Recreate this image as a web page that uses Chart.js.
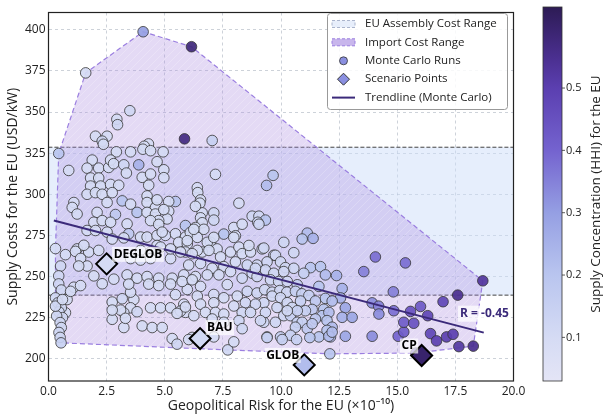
<!DOCTYPE html>
<html>
<head>
<meta charset="utf-8">
<script src="https://cdn.jsdelivr.net/npm/chart.js@4.4.1/dist/chart.umd.min.js"></script>
<style>
  html, body { margin: 0; padding: 0; background: #fff; }
  canvas { display: block; }
</style>
</head>
<body>
<canvas id="chart" width="608" height="417"></canvas>
<script>
// axes
const xTicks = [0, 2.5, 5, 7.5, 10, 12.5, 15, 17.5, 20];
const yTicks = [200, 225, 250, 275, 300, 325, 350, 375, 400];
const xRange = [0, 20];
const yRange = [186.5, 410.5];

// colour bar (HHI)
const hhiRange = [0.03, 0.63];
const cbTicks = [0.1, 0.2, 0.3, 0.4, 0.5];
const cmapStops = [0.03, 0.1, 0.2, 0.3, 0.4, 0.5, 0.55, 0.63];
const cmapColors = ["#e4e5f6", "#d5dbf4", "#b9c5ef", "#959fe3", "#7463cf", "#5b3fb0", "#4a2f8f", "#2d1b55"];

// EU assembly cost band (USD/kW)
const euAssemblyRange = [238.7, 328.6];

// scenarios
const scenarioNames = ["DEGLOB", "BAU", "GLOB", "CP"];
const scenarioX = [2.5, 6.52, 11.0, 16.05];
const scenarioY = [257.7, 212.3, 196.3, 202.0];
const scenarioHHI = [0.1, 0.11, 0.22, 0.6];

// trendline of the Monte Carlo runs
const trendX = [0.23, 18.72];
const trendY = [284.1, 215.9];
const trendR = -0.45;

const legendLabels = ["EU Assembly Cost Range", "Import Cost Range", "Monte Carlo Runs", "Scenario Points", "Trendline (Monte Carlo)"];

// Monte Carlo runs: [risk, cost, hhi]
const monteCarloRuns = [
  [1.6,373.8,.1],[4.07,398.8,.3],[6.15,389.7,.58],[5.85,333.7,.57],[0.44,324.8,.2],
  [3.5,350.8,.12],[2.94,345.6,.1],[2.97,342.3,.12],[2.02,335.3,.1],[2.52,335.3,.1],[2.31,332.3,.12],[2.36,330.4,.1],[4.3,330.6,.1],[4.12,329.2,.1],[7.04,332.7,.15],
  [2.92,325.8,.1],[3.53,325.8,.1],[4.06,327.4,.1],[4.39,326.5,.1],[4.93,325.8,.1],
  [0.87,314.5,.1],[1.88,320.8,.1],[1.66,315.9,.1],[2.16,315.9,.1],[2.59,316.3,.1],[2.67,320.8,.1],[2.8,318.6,.1],[3.24,317.9,.12],[3.35,312.9,.1],[3.88,317.9,.25],[4.03,310.3,.1],[4.39,312.3,.1],[4.67,319.8,.1],[4.96,314.9,.1],[4.96,310.1,.1],
  [1.81,309.9,.1],[2.16,309.9,.1],[1.81,305,.1],[2.24,305,.1],[2.67,306,.1],[3.02,305.5,.1],[4.31,305.5,.1],
  [1.66,300,.1],[2.02,301,.1],[2.31,300,.1],[2.74,301,.1],[2.52,295,.1],[3.17,296,.2],[3.53,294,.1],[4.24,299,.1],[4.24,295,.1],[4.6,292,.1],[5.46,295.6,.2],[5.17,295.6,.1],
  [1.09,295,.1],[1.02,292,.1],[1.23,288,.1],[2.09,289,.1],[2.88,287.7,.18],[3.81,289,.2],[4.24,289,.1],[4.6,288,.1],[5.17,289.7,.1],[5.1,285,.1],[4.74,284,.1],[4.39,284,.1],[1.95,283,.1],[2.31,284,.1],[2.67,283,.1],[3.38,282,.1],[5.89,281,.2],
  [1.66,278,.1],[2.02,278,.1],[2.52,277,.1],[3.45,276,.18],[3.96,274,.1],[4.24,274,.1],[4.67,275,.1],[5.03,275,.1],[5.46,276,.1],[5.89,274,.1],
  [4.96,290.7,.1],[4.67,296.6,.1],[4.74,281.7,.1],[4.89,277,.1],
  [6.4,304,.1],[6.42,301,.1],[6.54,296.6,.1],[6.51,294.6,.1],[6.61,288.7,.1],[6.54,285.7,.1],[6.32,292.7,.1],[7.11,288.7,.12],[7.11,284.3,.12],[6.61,282.7,.1],[7.18,312.1,.1],[8.19,294.6,.1],
  [6.32,279.8,.1],[6.68,278.7,.1],[7.54,275.8,.2],[7.97,279.8,.1],[8.33,281.8,.1],[8.04,274.8,.1],[6.1,276.8,.1],[6.4,273.8,.1],[6.97,270.8,.1],[5.6,270.8,.1],[5.97,269.8,.1],[6.61,264.9,.1],[7.25,266.8,.1],[7.83,264.9,.1],[8.19,267.9,.1],[8.33,263.9,.1],[8.69,264.9,.1],[9.19,266.8,.12],[9.69,262.9,.12],[5.25,260.9,.1],[4.67,268.9,.1],
  [9.66,311.5,.2],[9.38,305.4,.22],[8.76,286.7,.12],[9.05,286.7,.12],[9.33,284.3,.2],[9.0,283,.12],[11.13,276.4,.22],[10.91,272.8,.2],[11.38,273.2,.25],[10.12,270.8,.12],[6.25,278.7,.1],[9.05,281.8,.12],[9.26,267.3,.12],[10.55,264.5,.12],[9.76,262.9,.12],
  [8.97,257,.12],[9.4,258.9,.12],[9.98,258.9,.12],[10.19,255.4,.12],[10.55,255,.12],[11.27,255.4,.2],[11.7,256,.2],[11.91,251,.22],[12.39,250.6,.25],[13.56,253,.35],[14.06,261.9,.38],[15.35,258.3,.38],
  [8.76,252,.12],[8.97,250,.12],[9.33,254,.12],[9.69,252,.12],[10.12,253,.12],[10.98,252,.15],[9.55,248,.12],[9.9,247,.12],[10.27,247,.12],[10.7,245,.15],
  [8.55,241,.12],[8.97,240,.12],[9.3,242,.12],[9.62,240.5,.12],[9.95,241.5,.12],[10.25,240.5,.12],[10.62,241,.15],[10.9,239.5,.15],[11.2,238.5,.15],
  [11.63,244,.2],[11.91,236.7,.2],[12.63,242.7,.25],[12.56,237,.25],[12.77,231,.28],[13.92,234,.33],[14.2,232,.35],
  [9.26,234.1,.12],[9.62,238.1,.12],[9.98,237.1,.12],[10.27,234.1,.12],[10.48,231.2,.12],[10.84,235.1,.15],[11.48,235.1,.18],[11.84,230.1,.2],[12.2,235.1,.22],[9.83,231.2,.12],
  [11.34,230,.18],[11.77,226.2,.2],[12.06,228.2,.22],[12.63,225.2,.25],[13.06,225.2,.28],
  [9.26,222.2,.12],[9.76,222.2,.12],[10.12,226.2,.12],[10.41,226.2,.15],[10.7,222.2,.15],[10.91,222.2,.15],[11.48,224.2,.18],[11.98,223.2,.2],[12.2,219.2,.22],
  [6.54,244,.1],[7.11,239.1,.1],[7.69,245.1,.1],[8.12,238.1,.1],[9.33,228.2,.12],[9.12,223.2,.12],[10.62,219.2,.15],[11.13,218.3,.18],[11.63,213.3,.2],[12.13,213.3,.22],[9.4,213.3,.15],[9.98,213.3,.15],[10.41,214.3,.15],[11.98,217.3,.2],[11.05,229.2,.15],[10.7,229.2,.15],[10.27,229.2,.12],[11.34,221.3,.18],
  [5.97,271.8,.1],[6.83,270.8,.1],[7.11,273.8,.1],[7.97,273.8,.1],[5.89,264.9,.1],[6.4,265.9,.1],[6.9,265.9,.1],[7.4,261.9,.1],[8.62,268.9,.1],[8.04,258.9,.1],[8.55,257,.12],[7.54,256,.1],[7.04,255,.1],[6.54,257.9,.1],[6.03,257,.1],[5.82,251,.1],[6.32,250,.1],[6.83,251,.1],[7.33,251,.1],[7.83,253,.1],[8.33,249,.12],[8.9,255,.12],
  [5.97,242.1,.1],[6.4,238.1,.1],[7.54,237.1,.1],[7.97,232.1,.1],[8.47,234.1,.12],[8.9,233.2,.12],[6.54,233.2,.1],[7.11,234.1,.1],[5.82,233.2,.1],[5.89,228.2,.1],[6.25,226.2,.1],[6.75,228.2,.1],[7.18,228.2,.1],[7.54,227.2,.1],[8.33,228.2,.12],[8.69,228.2,.12],[8.19,223.2,.12],[7.54,222.2,.1],[7.04,224.2,.1],[8.33,218.3,.12],
  [2.74,272.8,.1],[3.24,273.5,.1],
  [1.23,266.8,.1],[1.73,264.9,.1],[2.16,265.9,.1],[3.96,265.9,.1],[4.39,264.9,.1],[4.82,267.9,.1],[5.25,266.8,.1],[5.68,264.9,.1],[6.18,263.9,.1],[3.53,260.9,.1],[3.96,260,.1],[4.39,260.9,.1],
  [3.38,251,.1],[3.81,249,.1],[4.24,250,.1],[4.74,249,.1],[5.32,249,.1],[5.75,247,.1],[6.18,248,.1],[5.46,239,.1],[3.67,236,.1],[3.53,231,.1],[3.24,228,.1],[2.74,224,.1],[3.24,219,.1],[3.81,228.6,.12],
  [4.39,231,.1],[4.82,231,.1],[5.25,231,.1],[5.68,229,.1],[4.03,220,.1],[4.46,219,.1],[4.89,219,.1],[6.18,213,.1],
  [2.74,234.5,.1],[3.17,236.5,.12],[3.53,240.5,.1],[3.45,245.4,.1],[3.1,229.6,.1],[2.74,229.6,.1],[3.31,224.6,.1],[4.31,245.4,.1],[4.74,244.5,.1],[5.25,245.4,.1],[5.53,227.6,.1],[5.89,231.5,.1],
  [0.3,267,.1],[0.73,263.3,.1],[1.16,265.3,.1],[1.52,269,.1],[0.52,256.4,.12],[1.38,261,.1],[1.66,256.4,.1],[1.3,256.4,.1],[1.95,250.4,.1],[2.31,245.6,.1],[2.81,248.4,.1],[0.44,250.4,.12],[0.44,245.5,.12],[0.55,241.8,.12],[1.09,243.5,.1],[1.38,244.5,.1],[0.8,236,.1],[0.73,228,.1],[0.95,241,.1],
  [0.3,237,.12],[0.4,234,.12],[0.55,231,.12],[0.45,228.5,.12],[0.6,225,.12],[0.35,226,.12],[0.5,222,.12],[0.55,219,.12],[0.45,216,.12],[0.5,213,.12],[0.54,209.7,.15],[0.3,232,.12],[0.6,236,.1],
  [5.32,212.3,.1],[5.53,208.9,.12],[6.03,211.7,.1],[7.11,213.3,.1],[7.71,205.4,.12],[7.97,210.3,.1],[9.4,212.9,.15],[10.05,211.7,.15],[10.67,211.7,.15],[11.24,212.9,.2],[12.1,203,.2],[12.06,213.7,.22],[12.2,216.2,.22],[12.77,213.7,.28],[13.92,213.7,.33],
  [15.04,213.7,.4],[15.28,216.3,.42],[16.43,215.3,.48],[16.69,210.9,.5],[17.12,213.3,.5],[17.4,214.9,.5],[17.65,207.4,.52],[18.27,207.7,.55],[15.8,203.5,.5],
  [18.68,247.4,.53],[17.6,238.7,.55],[16.97,234.7,.48],[14.83,240.7,.35],[16.0,231.8,.43],[15.57,228.8,.45],[16.31,226.2,.48],[14.21,227.2,.33],[14.85,229.2,.38],[15.28,222.2,.42],[15.71,221.6,.45]
];

const FONT = "'Open Sans', 'Noto Sans', sans-serif";
Chart.defaults.font.family = FONT;
Chart.defaults.color = "#222";

function hexToRgb(hex) {
  const n = parseInt(hex.slice(1), 16);
  return [(n >> 16) & 255, (n >> 8) & 255, n & 255];
}

function hhiColor(v, alpha) {
  const t = Math.min(Math.max(v, cmapStops[0]), cmapStops[cmapStops.length - 1]);
  let i = 0;
  while (i < cmapStops.length - 2 && t > cmapStops[i + 1]) i++;
  const f = (t - cmapStops[i]) / (cmapStops[i + 1] - cmapStops[i]);
  const a = hexToRgb(cmapColors[i]);
  const b = hexToRgb(cmapColors[i + 1]);
  const c = a.map((ch, k) => Math.round(ch + (b[k] - ch) * f));
  return `rgba(${c[0]}, ${c[1]}, ${c[2]}, ${alpha == null ? 1 : alpha})`;
}

// convex hull (monotone chain) of the runs = import cost range
function convexHull(pts) {
  const p = pts.map((r) => ({ x: r[0], y: r[1] })).sort((a, b) => a.x - b.x || a.y - b.y);
  const cross = (o, a, b) => (a.x - o.x) * (b.y - o.y) - (a.y - o.y) * (b.x - o.x);
  const lower = [];
  for (const q of p) {
    while (lower.length >= 2 && cross(lower[lower.length - 2], lower[lower.length - 1], q) <= 0) lower.pop();
    lower.push(q);
  }
  const upper = [];
  for (let i = p.length - 1; i >= 0; i--) {
    const q = p[i];
    while (upper.length >= 2 && cross(upper[upper.length - 2], upper[upper.length - 1], q) <= 0) upper.pop();
    upper.push(q);
  }
  upper.pop();
  lower.pop();
  const hull = lower.concat(upper);
  hull.push(hull[0]);
  return hull;
}

function hatchPattern() {
  const c = document.createElement("canvas");
  c.width = 8;
  c.height = 8;
  const g = c.getContext("2d");
  g.fillStyle = "rgba(165, 132, 222, 0.3)";
  g.fillRect(0, 0, 8, 8);
  g.strokeStyle = "rgba(255, 255, 255, 0.28)";
  g.lineWidth = 0.8;
  g.beginPath();
  g.moveTo(0, 8); g.lineTo(8, 0);
  g.moveTo(-4, 4); g.lineTo(4, -4);
  g.moveTo(4, 12); g.lineTo(12, 4);
  g.stroke();
  return g.createPattern(c, "repeat");
}

const bandPoints = [
  { x: xRange[0], y: euAssemblyRange[0] }, { x: xRange[1], y: euAssemblyRange[0] },
  { x: xRange[1], y: euAssemblyRange[1] }, { x: xRange[0], y: euAssemblyRange[1] },
  { x: xRange[0], y: euAssemblyRange[0] }
];

const chartDecor = {
  id: "chartDecor",
  afterDatasetsDraw(chart) {
    const { ctx, scales: { x, y } } = chart;
    ctx.save();
    ctx.font = `bold 12px ${FONT}`;
    ctx.textBaseline = "middle";
    scenarioNames.forEach((name, i) => {
      const px = x.getPixelForValue(scenarioX[i]);
      const py = y.getPixelForValue(scenarioY[i]);
      const w = ctx.measureText(name).width;
      const right = i < 2;
      const tx = right ? px + 7 : px - 5 - w;
      const ty = py - (i === 1 ? 11 : 9.5);
      ctx.fillStyle = "rgba(255, 255, 255, 0.7)";
      ctx.fillRect(tx - 1.5, ty - 7.5, w + 3, 15);
      ctx.fillStyle = "#000";
      ctx.fillText(name, tx, ty);
    });
    // correlation label
    const rText = `R = ${trendR.toFixed(2)}`;
    const rx = x.getPixelForValue(17.7);
    const ry = y.getPixelForValue(227.4);
    const rw = ctx.measureText(rText).width;
    ctx.fillStyle = "rgba(255, 255, 255, 0.7)";
    ctx.fillRect(rx - 2, ry - 8, rw + 4, 16);
    ctx.fillStyle = "#3b2a7a";
    ctx.fillText(rText, rx, ry);
    ctx.restore();
  },
  afterDraw(chart) {
    const { ctx, chartArea: a } = chart;
    ctx.save();
    // frame
    ctx.strokeStyle = "#222";
    ctx.lineWidth = 1.2;
    ctx.strokeRect(a.left, a.top, a.right - a.left, a.bottom - a.top);

    // legend
    const lx = 327, ly = 13, lw = 180, lh = 96;
    ctx.fillStyle = "rgba(255, 255, 255, 0.85)";
    ctx.strokeStyle = "#999";
    ctx.lineWidth = 1;
    ctx.beginPath();
    ctx.roundRect(lx + 0.5, ly + 0.5, lw, lh, 3);
    ctx.fill();
    ctx.stroke();
    const rowY = [24, 42.3, 60.8, 79.2, 97.6];
    const hx = 332, hw = 23, hc = hx + hw / 2;
    // EU band and import range patches
    ctx.setLineDash([3, 2]);
    ctx.fillStyle = "#e7eefb";
    ctx.strokeStyle = "#aab4cc";
    ctx.fillRect(hx, rowY[0] - 3.5, hw, 7);
    ctx.strokeRect(hx, rowY[0] - 3.5, hw, 7);
    ctx.fillStyle = "#c8b6ec";
    ctx.strokeStyle = "#9b7fe0";
    ctx.fillRect(hx, rowY[1] - 3.5, hw, 7);
    ctx.strokeRect(hx, rowY[1] - 3.5, hw, 7);
    ctx.setLineDash([]);
    // markers
    ctx.fillStyle = "#8a8fe0";
    ctx.strokeStyle = "#333";
    ctx.lineWidth = 0.8;
    ctx.beginPath();
    ctx.arc(hc, rowY[2], 4, 0, Math.PI * 2);
    ctx.fill();
    ctx.stroke();
    ctx.beginPath();
    ctx.moveTo(hc, rowY[3] - 6);
    ctx.lineTo(hc + 6, rowY[3]);
    ctx.lineTo(hc, rowY[3] + 6);
    ctx.lineTo(hc - 6, rowY[3]);
    ctx.closePath();
    ctx.fill();
    ctx.lineWidth = 1;
    ctx.stroke();
    ctx.strokeStyle = "#3b2a7a";
    ctx.lineWidth = 2;
    ctx.beginPath();
    ctx.moveTo(hx, rowY[4]);
    ctx.lineTo(hx + hw, rowY[4]);
    ctx.stroke();
    ctx.fillStyle = "#222";
    ctx.font = `11.5px ${FONT}`;
    ctx.textBaseline = "middle";
    ctx.textAlign = "left";
    legendLabels.forEach((t, i) => ctx.fillText(t, 365, rowY[i]));

    // colour bar
    const cbL = 543, cbR = 562, cbT = 7, cbB = 381;
    const cbY = (v) => cbB - (v - hhiRange[0]) / (hhiRange[1] - hhiRange[0]) * (cbB - cbT);
    const grad = ctx.createLinearGradient(0, cbB, 0, cbT);
    cmapStops.forEach((s, i) => {
      grad.addColorStop((s - hhiRange[0]) / (hhiRange[1] - hhiRange[0]), cmapColors[i]);
    });
    ctx.fillStyle = grad;
    ctx.fillRect(cbL, cbT, cbR - cbL, cbB - cbT);
    ctx.strokeStyle = "#333";
    ctx.lineWidth = 0.8;
    ctx.strokeRect(cbL, cbT, cbR - cbL, cbB - cbT);
    ctx.font = `11px ${FONT}`;
    ctx.fillStyle = "#222";
    cbTicks.forEach((v) => {
      const ty = cbY(v);
      ctx.beginPath();
      ctx.moveTo(cbR, ty);
      ctx.lineTo(cbR + 3, ty);
      ctx.stroke();
      ctx.fillText(v.toFixed(1), cbR + 4, ty);
    });
    ctx.translate(596, (cbT + cbB) / 2);
    ctx.rotate(-Math.PI / 2);
    ctx.textAlign = "center";
    ctx.font = `13.5px ${FONT}`;
    ctx.fillText("Supply Concentration (HHI) for the EU", 0, 0);
    ctx.restore();
  }
};

const ctx = document.getElementById("chart");

new Chart(ctx, {
  type: "scatter",
  data: {
    datasets: [
      {
        type: "line",
        label: "EU Assembly Cost Range",
        data: bandPoints,
        showLine: true,
        fill: "shape",
        backgroundColor: "rgba(205, 222, 250, 0.5)",
        borderColor: "#444",
        borderWidth: 1,
        borderDash: [4, 2],
        pointRadius: 0,
        tension: 0,
        order: 5
      },
      {
        type: "line",
        label: "Import Cost Range",
        data: convexHull(monteCarloRuns),
        showLine: true,
        fill: "shape",
        backgroundColor: hatchPattern(),
        borderColor: "#9b7fe0",
        borderWidth: 1.2,
        borderDash: [5, 3],
        pointRadius: 0,
        tension: 0,
        order: 4
      },
      {
        label: "Monte Carlo Runs",
        data: monteCarloRuns.map((r) => ({ x: r[0], y: r[1] })),
        pointBackgroundColor: monteCarloRuns.map((r) => hhiColor(r[2], 0.92)),
        pointBorderColor: "#333",
        pointBorderWidth: 0.8,
        pointRadius: 5.3,
        order: 3
      },
      {
        type: "line",
        label: "Trendline (Monte Carlo)",
        data: trendX.map((v, i) => ({ x: v, y: trendY[i] })),
        showLine: true,
        fill: false,
        borderColor: "#3b2a7a",
        borderWidth: 2,
        pointRadius: 0,
        order: 2
      },
      {
        label: "Scenario Points",
        data: scenarioX.map((v, i) => ({ x: v, y: scenarioY[i] })),
        pointStyle: "rectRot",
        pointBackgroundColor: scenarioHHI.map((h) => hhiColor(h, 1)),
        pointBorderColor: "#000",
        pointBorderWidth: 2,
        pointRadius: 10.5,
        order: 1
      }
    ]
  },
  options: {
    responsive: false,
    animation: false,
    events: [],
    layout: { padding: { top: 5, right: 94.5, left: 0, bottom: 0 } },
    plugins: {
      legend: { display: false },
      tooltip: { enabled: false }
    },
    scales: {
      x: {
        type: "linear",
        min: xRange[0],
        max: xRange[1],
        afterBuildTicks(scale) { scale.ticks = xTicks.map((v) => ({ value: v })); },
        afterFit(scale) { scale.height = 36; },
        grid: { color: "rgba(150, 160, 175, 0.6)", lineWidth: 0.8, drawTicks: false },
        border: { display: false, dash: [3, 3] },
        ticks: { padding: 3, font: { size: 12 }, color: "#222", callback: (v) => Number(v).toFixed(1) },
        title: {
          display: true,
          text: "Geopolitical Risk for the EU (×10⁻¹⁰)",
          font: { size: 14 },
          color: "#222",
          padding: { top: 0, bottom: 3 }
        }
      },
      y: {
        type: "linear",
        min: yRange[0],
        max: yRange[1],
        afterBuildTicks(scale) { scale.ticks = yTicks.map((v) => ({ value: v })); },
        afterFit(scale) { scale.width = 48.5; },
        grid: { color: "rgba(150, 160, 175, 0.6)", lineWidth: 0.8, drawTicks: false },
        border: { display: false, dash: [3, 3] },
        ticks: { padding: 3, font: { size: 12 }, color: "#222" },
        title: {
          display: true,
          text: "Supply Costs for the EU (USD/kW)",
          font: { size: 14 },
          color: "#222",
          padding: { top: 5, bottom: 0 }
        }
      }
    }
  },
  plugins: [chartDecor]
});
</script>
</body>
</html>
